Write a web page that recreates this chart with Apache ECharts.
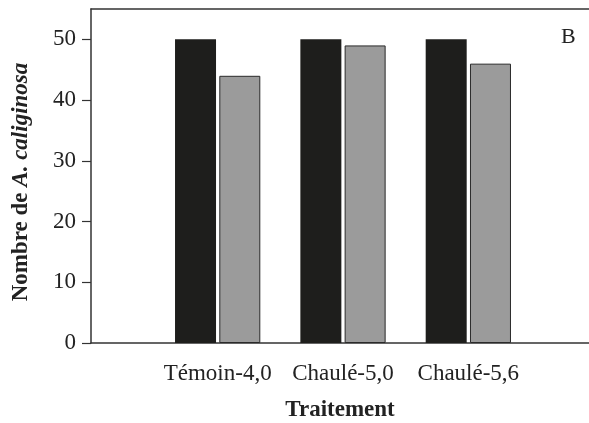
<!DOCTYPE html>
<html>
<head>
<meta charset="utf-8">
<script src="https://cdn.jsdelivr.net/npm/echarts@6/dist/echarts.min.js"></script>
<style>html,body{margin:0;padding:0;background:#fff}#c{width:589px;height:423px}</style>
</head>
<body>
<div id="c"></div>
<script>
const categories = ['Témoin-4,0', 'Chaulé-5,0', 'Chaulé-5,6'];
const seriesBlack = [50, 50, 50];
const seriesGray = [44, 49, 46];
const yTicks = [0, 10, 20, 30, 40, 50];
const yMax = 55;

const FONT = 'Liberation Serif';
const TXT = '#222';
const chart = echarts.init(document.getElementById('c'), null, {renderer: 'canvas'});
chart.setOption({
  animation: false,
  backgroundColor: '#fff',
  textStyle: {fontFamily: FONT, color: TXT},
  title: {
    text: 'B', left: 561, top: 26, padding: 0,
    textStyle: {fontFamily: FONT, fontSize: 22, fontWeight: 'normal', color: TXT}
  },
  grid: [
    {left: 91, right: 0, top: 9, bottom: 80, outerBoundsMode: 'none', containLabel: false},
    {left: 155, right: 58, top: 9, bottom: 80, outerBoundsMode: 'none', containLabel: false}
  ],
  xAxis: [
    {
      gridIndex: 0, type: 'category', data: [''], position: 'bottom',
      axisLine: {show: true, lineStyle: {color: '#333', width: 1.5}},
      axisTick: {show: false}, axisLabel: {show: false},
      name: 'Traitement', nameLocation: 'middle', nameGap: 56,
      nameTextStyle: {fontFamily: FONT, fontSize: 23, fontWeight: 'bold', color: TXT}
    },
    {
      gridIndex: 1, type: 'category', data: categories,
      axisLine: {show: false}, axisTick: {show: false},
      axisLabel: {fontFamily: FONT, fontSize: 23, color: TXT, margin: 19, interval: 0}
    },
    {
      gridIndex: 0, type: 'category', data: [''], position: 'top',
      axisLine: {show: true, lineStyle: {color: '#333', width: 1.5}},
      axisTick: {show: false}, axisLabel: {show: false}
    }
  ],
  yAxis: [
    {
      gridIndex: 0, type: 'value', min: 0, max: yMax,
      axisLine: {show: true, lineStyle: {color: '#333', width: 1.5}},
      axisTick: {show: true, inside: false, length: 9, lineStyle: {color: '#333', width: 1.2}, customValues: yTicks},
      axisLabel: {fontFamily: FONT, fontSize: 23, color: TXT, margin: 15, customValues: yTicks},
      splitLine: {show: false},
      name: '{a|Nombre de }{b|A. caliginosa}', nameLocation: 'middle', nameGap: 58,
      nameTextStyle: {
        padding: [0, 12, 0, 0],
        rich: {
          a: {fontFamily: FONT, fontSize: 23, fontWeight: 'bold', color: TXT},
          b: {fontFamily: FONT, fontSize: 23, fontWeight: 'bold', fontStyle: 'italic', color: TXT}
        }
      }
    },
    {
      gridIndex: 1, type: 'value', min: 0, max: yMax,
      show: false, splitLine: {show: false}
    }
  ],
  series: [
    {
      name: 'Série 1', type: 'bar', xAxisIndex: 1, yAxisIndex: 1,
      data: seriesBlack, barWidth: 41, barGap: '8%',
      itemStyle: {color: '#1e1e1c', borderColor: '#1e1e1c', borderWidth: 0}
    },
    {
      name: 'Série 2', type: 'bar', xAxisIndex: 1, yAxisIndex: 1,
      data: seriesGray, barWidth: 41,
      itemStyle: {color: '#9b9b9b', borderColor: '#2a2a2a', borderWidth: 1}
    }
  ]
});
</script>
</body>
</html>
